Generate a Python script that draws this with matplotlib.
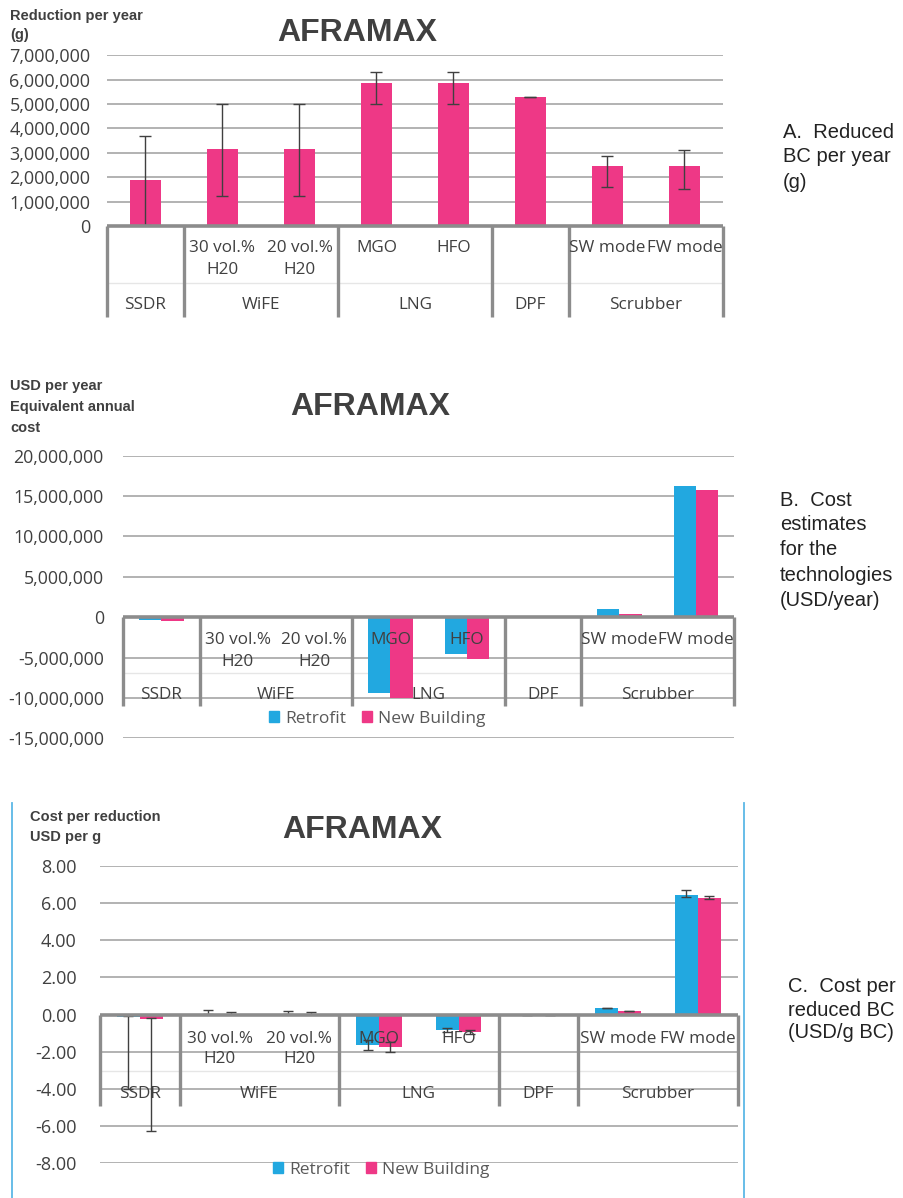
import matplotlib
matplotlib.use("Agg")
import matplotlib.pyplot as plt
from matplotlib.lines import Line2D
from matplotlib.patches import Patch

# ---------------- data ----------------
categories = ["SSDR", "30 vol.%", "20 vol.%", "MGO", "HFO", "DPF", "SW mode", "FW mode"]
sub_labels = ["", "30 vol.%\nH20", "20 vol.%\nH20", "MGO", "HFO", "", "SW mode", "FW mode"]
groups = ["SSDR", "WiFE", "LNG", "DPF", "Scrubber"]
group_spans = [(0, 0), (1, 2), (3, 4), (5, 5), (6, 7)]

# Panel A: reduced BC per year (g)
red_vals = [1.9e6, 3.15e6, 3.15e6, 5.85e6, 5.85e6, 5.3e6, 2.47e6, 2.47e6]
red_err_lo = [1.85e6, 1.92e6, 1.92e6, 0.83e6, 0.83e6, 0.0, 0.88e6, 0.97e6]
red_err_hi = [1.8e6, 1.87e6, 1.87e6, 0.45e6, 0.45e6, 0.0, 0.40e6, 0.65e6]
red_ticks = [0, 1e6, 2e6, 3e6, 4e6, 5e6, 6e6, 7e6]

# Panel B: equivalent annual cost (USD/year)
cost_retrofit = [-0.32e6, 0.2e6, 0.2e6, -9.4e6, -4.6e6, 0.0, 0.96e6, 16.3e6]
cost_newbuild = [-0.49e6, 0.2e6, 0.02e6, -10.0e6, -5.2e6, 0.0, 0.42e6, 15.8e6]
cost_ticks = [-15e6, -10e6, -5e6, 0, 5e6, 10e6, 15e6, 20e6]

# Panel C: cost per reduced BC (USD/g)
cpr_retrofit = [-0.15, 0.02, 0.02, -1.64, -0.85, 0.0, 0.34, 6.43]
cpr_newbuild = [-0.25, 0.01, 0.01, -1.77, -0.94, 0.0, 0.18, 6.27]
cpr_retrofit_lo = [3.85, 0.0, 0.0, 0.27, 0.1, 0.0, 0.0, 0.1]
cpr_retrofit_hi = [0.05, 0.2, 0.16, 0.27, 0.1, 0.0, 0.0, 0.29]
cpr_newbuild_lo = [6.0, 0.0, 0.0, 0.27, 0.1, 0.0, 0.0, 0.07]
cpr_newbuild_hi = [0.05, 0.15, 0.11, 0.27, 0.1, 0.0, 0.0, 0.11]
cpr_ticks = [-8, -6, -4, -2, 0, 2, 4, 6, 8]

series_names = ["Retrofit", "New Building"]

BLUE = "#22A8E0"
PINK = "#EE3886"
GRID = "#a6a6a6"
AXC = "#8c8c8c"
TXT = "#404040"
ERR = "#404040"
TICKFONT = ["Open Sans", "DejaVu Sans"]

W, H = 904, 1198
fig = plt.figure(figsize=(W / 100, H / 100), dpi=100)
fig.patch.set_facecolor("white")


def rect(left, right, top, bottom):
    return [left / W, 1 - bottom / H, (right - left) / W, (bottom - top) / H]


def fx(x):
    return x / W


def fy(y):
    return 1 - y / H


def setup(ax, ticks, fmt, ylim, fs, pad):
    ax.set_xlim(-0.5, 7.5)
    ax.set_ylim(*ylim)
    for s in ax.spines.values():
        s.set_visible(False)
    ax.set_yticks(ticks)
    ax.set_yticklabels([fmt(t) for t in ticks], fontsize=fs, color=TXT, family=TICKFONT)
    ax.tick_params(axis="y", length=0, pad=pad)
    ax.set_xticks([])
    ax.yaxis.grid(True, color=GRID, lw=1.2)
    ax.set_axisbelow(True)
    ax.patch.set_alpha(0)


def category_axis(ax, y_sub1, y_sub2, y_grp, y_bottom, y_faint, fs):
    ax.plot([-0.5, 7.5], [0, 0], color=AXC, lw=2.6, zorder=5, clip_on=False,
            solid_capstyle="butt")
    for b in [-0.5, 0.5, 2.5, 4.5, 5.5, 7.5]:
        ax.plot([b, b], [0, y_bottom], color=AXC, lw=2.4, zorder=5, clip_on=False,
                solid_capstyle="butt")
    ax.plot([-0.5, 7.5], [y_faint, y_faint], color="#e6e6e6", lw=1.0, zorder=1,
            clip_on=False)
    for i, lab in enumerate(sub_labels):
        if not lab:
            continue
        parts = lab.split("\n")
        ax.text(i, y_sub1, parts[0], ha="center", va="center", fontsize=fs,
                color=TXT, zorder=6, clip_on=False, family=TICKFONT)
        if len(parts) > 1:
            ax.text(i, y_sub2, parts[1], ha="center", va="center", fontsize=fs,
                    color=TXT, zorder=6, clip_on=False, family=TICKFONT)
    for g, (a, b) in zip(groups, group_spans):
        ax.text((a + b) / 2, y_grp, g, ha="center", va="center", fontsize=fs,
                color=TXT, zorder=6, clip_on=False, family=TICKFONT)


def title(x, y):
    fig.text(fx(x), fy(y), "AFRAMAX", ha="center", va="center", fontsize=23,
             fontweight="bold", color=TXT, family=["Liberation Sans", "DejaVu Sans"])


def small_label(x, y, lines, step):
    for k, s in enumerate(lines):
        fig.text(fx(x), fy(y + k * step), s, ha="left", va="center", fontsize=10.5,
                 fontweight="bold", color=TXT, family=["Liberation Sans", "DejaVu Sans"])


def side_note(x, y, lines, step=25):
    for k, s in enumerate(lines):
        fig.text(fx(x), fy(y + k * step), s, ha="left", va="center", fontsize=14.5,
                 color="#222222", family=["Liberation Sans", "DejaVu Sans"])


xs = list(range(len(categories)))

# ---------------- Panel A ----------------
axA = fig.add_axes(rect(107, 723, 55.3, 226))
setup(axA, red_ticks, lambda v: f"{int(v):,}", (0, 7e6), 13, 12)
axA.bar(xs, red_vals, width=0.4, color=PINK, zorder=3)
axA.errorbar(xs, red_vals, yerr=[red_err_lo, red_err_hi], fmt="none", ecolor=ERR,
             elinewidth=1.0, capsize=4, capthick=1.0, zorder=4)
ppmA = 170.7 / 7e6
category_axis(axA, -22 / ppmA, -44 / ppmA, -79 / ppmA, -91 / ppmA, -57 / ppmA, 12.3)
title(357, 33)
small_label(10, 16, ["Reduction per year", "(g)"], 19)
side_note(783, 132, ["A.  Reduced", "BC per year", "(g)"])

# ---------------- Panel B ----------------
axB = fig.add_axes(rect(123.3, 734, 455.7, 738.3))
setup(axB, cost_ticks, lambda v: f"{int(v):,}", (-15e6, 20e6), 12.8, 14)
bw = 0.29
axB.bar([x - bw / 2 for x in xs], cost_retrofit, width=bw, color=BLUE, zorder=3,
        label=series_names[0])
axB.bar([x + bw / 2 for x in xs], cost_newbuild, width=bw, color=PINK, zorder=3,
        label=series_names[1])
ppmB = 40.5 / 5e6
category_axis(axB, -22.5 / ppmB, -44.5 / ppmB, -78.5 / ppmB, -89 / ppmB, -55.5 / ppmB, 12.3)
axB.legend(handles=[Patch(color=BLUE, label=series_names[0]),
                    Patch(color=PINK, label=series_names[1])],
           loc="center", bbox_to_anchor=(fx(377), fy(719)), bbox_transform=fig.transFigure,
           ncol=2, frameon=False, fontsize=12.5, handlelength=0.6, handleheight=0.6,
           handletextpad=0.35, columnspacing=0.9, labelcolor="#595959",
           prop={"family": TICKFONT, "size": 12.5})
title(370, 407)
small_label(10, 386, ["USD per year", "Equivalent annual", "cost"], 21)
side_note(780, 500, ["B.  Cost", "estimates", "for the", "technologies", "(USD/year)"])

# ---------------- Panel C ----------------
axC = fig.add_axes(rect(100, 737.7, 865.7, 1163.3))
setup(axC, cpr_ticks, lambda v: f"{v:.2f}", (-8, 8), 13, 17)
bw = 0.285
axC.bar([x - bw / 2 for x in xs], cpr_retrofit, width=bw, color=BLUE, zorder=3)
axC.bar([x + bw / 2 for x in xs], cpr_newbuild, width=bw, color=PINK, zorder=3)
axC.errorbar([x - bw / 2 for x in xs], cpr_retrofit, yerr=[cpr_retrofit_lo, cpr_retrofit_hi],
             fmt="none", ecolor=ERR, elinewidth=1.0, capsize=3.5, capthick=1.0, zorder=4)
axC.errorbar([x + bw / 2 for x in xs], cpr_newbuild, yerr=[cpr_newbuild_lo, cpr_newbuild_hi],
             fmt="none", ecolor=ERR, elinewidth=1.0, capsize=3.5, capthick=1.0, zorder=4)
ppuC = 18.55
category_axis(axC, -24 / ppuC, -44 / ppuC, -79 / ppuC, -91 / ppuC, -56 / ppuC, 12.3)
axC.legend(handles=[Patch(color=BLUE, label=series_names[0]),
                    Patch(color=PINK, label=series_names[1])],
           loc="center", bbox_to_anchor=(fx(381), fy(1170)), bbox_transform=fig.transFigure,
           ncol=2, frameon=False, handlelength=0.6, handleheight=0.6,
           handletextpad=0.35, columnspacing=0.9, labelcolor="#595959",
           prop={"family": TICKFONT, "size": 12.5})
title(362, 830)
small_label(30, 817, ["Cost per reduction", "USD per g"], 20)
side_note(788, 987, ["C.  Cost per", "reduced BC", "(USD/g BC)"], step=23)

# light blue frame lines around panel C
for xl in (12, 744):
    fig.add_artist(Line2D([fx(xl), fx(xl)], [fy(803), fy(1198)], color="#5cb8e6", lw=1.3))

fig.savefig("out.png", dpi=100, facecolor="white")
